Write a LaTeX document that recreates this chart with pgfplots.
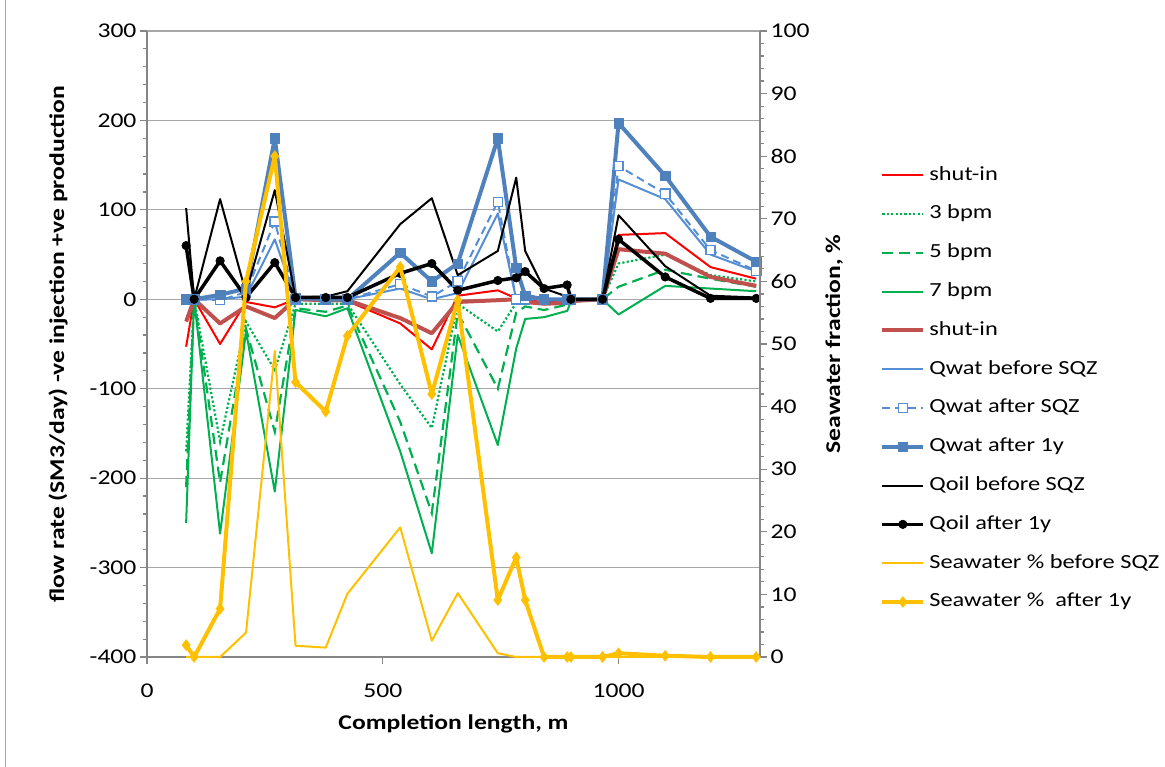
\documentclass[border=0pt]{standalone}
\usepackage{pgfplots}
\usepackage{pgfplotstable}
\pgfplotsset{compat=1.18}
\usepackage{fontspec}
\setmainfont{Carlito}[FakeStretch=1.22]

\definecolor{cRed}{HTML}{FF0000}
\definecolor{cGreen}{HTML}{00B050}
\definecolor{cBrown}{HTML}{C0504D}
\definecolor{cBlue}{HTML}{4F81BD}
\definecolor{cBlueL}{HTML}{558ED5}
\definecolor{cYel}{HTML}{FFC000}
\definecolor{cGrid}{HTML}{A6A6A6}
\definecolor{cAxis}{HTML}{868686}

\pgfplotstableread{
x shutin b3 b5 b7 shutinB qwb qwa qw1 qob qo1 swb sw1
83 -53 -170 -210 -250 -25 0 0 0 102 60 0 1.9
100 0 0 0 0 0 0 0 0 0 0 0 0
155 -50 -159 -205 -262 -27 0 -1 5 112 43 0 7.7
210 -3 -25 -33 -36 -8 3 8 12 7 2 3.9 60
271 -9 -79 -148 -215 -21 67 87 180 122 41 48.9 80
315 0 -5 -10 -12 0 0 0 2 2 2 1.8 43.9
379 -2 -5 -14 -19 -1 0 0 0 3 2 1.5 39.2
425 -2 -5 -7 -10 -1 0 0 0 9 2 10.1 51.3
537 -27 -95 -137 -170 -21 12 17 52 84 29 20.7 62.3
604 -56 -144 -239 -284 -38 0 3 20 113 40 2.6 42
659 4 -5 -15 -40 -3 7 20 40 27 10 10.2 57
744 10 -36 -100 -163 -1 96 109 180 54 21 0.6 9.1
783 1 -4 -15 -55 0 0 0 35 136 24 0 15.9
802 -1 -3 -8 -22 -3 0 0 4 54 31 0 9.1
842 -3 -5 -12 -20 -5 0 0 0 12 12 0 0
891 -3 -4 -6 -13 -4 0 0 0 3 16 0 0
899 -2 -2 -2 -3 -2 0 0 0 0 0 0 0
966 0 0 0 0 0 0 0 0 0 0 0 0
1000 72 40 14 -17 56 134 149 197 94 67 0 0.6
1099 74 50 33 15 51 112 118 138 37 25 0 0.2
1195 36 27 23 12 25 50 55 70 4 1 0 0
1292 23 20 14 9 15 31 32 42 2 1 0 0
}\data

\pgfplotsset{
  sShut/.style={cRed, line width=2pt, no marks, line join=round},
  sB3/.style={cGreen, line width=2.2pt, dash pattern=on 2.2pt off 2.2pt, no marks},
  sB5/.style={cGreen, line width=2.2pt, dash pattern=on 11pt off 6pt, no marks},
  sB7/.style={cGreen, line width=2pt, no marks, line join=round},
  sBrown/.style={cBrown, line width=4pt, no marks, line join=round},
  sQwb/.style={cBlueL, line width=2pt, no marks, line join=round},
  sQwa/.style={cBlueL, line width=2pt, dash pattern=on 8pt off 5pt, mark=square*, mark size=4.6pt, mark options={solid, fill=white, draw=cBlueL, line width=1.4pt}},
  sQw1/.style={cBlue, line width=4pt, line join=round, mark=square*, mark size=4.7pt, mark options={solid, fill=cBlue, draw=cBlue, line width=0.5pt}},
  sQob/.style={black, line width=2pt, no marks, line join=round},
  sQo1/.style={black, line width=3.5pt, line join=round, mark=*, mark size=4.3pt, mark options={solid, fill=black, line width=0.5pt}},
  sSwb/.style={cYel, line width=2pt, no marks, line join=round},
  sSw1/.style={cYel, line width=4pt, line join=round, mark=diamond*, mark size=5.5pt, mark options={solid, fill=cYel, draw=cYel, line width=0.5pt}},
  common/.style={
    at={(147pt,110pt)}, anchor=south west,
    scale only axis, width=613pt, height=626pt,
    xmin=0, xmax=1300, clip=false,
    /pgf/number format/assume math mode=true,
    /pgf/number format/1000 sep={},
    ticklabel style={font=\fontsize{21}{25}\selectfont, text=black},
    label style={font=\bfseries\fontsize{21}{25}\selectfont},
    axis line style={cAxis, line width=1.2pt},
    tick style={cAxis, line width=1.2pt},
    major tick length=7pt, minor tick length=4pt,
    tick align=outside,
  },
}

\begin{document}
\begin{tikzpicture}[x=1pt,y=1pt]
\useasboundingbox (0,0) rectangle (1165,767);
\draw[cAxis!70, line width=1pt] (5,0) -- (5,767);

\begin{axis}[common,
  ymin=-400, ymax=300,
  xtick={0,500,1000}, ytick={-400,-300,...,300},
  minor y tick num=4,
  axis x line*=bottom, axis y line*=left,
  ymajorgrids, major grid style={cGrid, line width=1.2pt},
  xticklabel style={yshift=-16pt},
  xlabel={Completion length, m},
  ylabel={flow rate (SM3/day) -ve injection +ve production},
  xlabel style={at={(axis description cs:0.5,-0.107)}, anchor=center},
  ylabel style={at={(axis description cs:-0.145,0.5)}, anchor=center},
]
\addplot[sShut] table[x=x,y=shutin]{\data};
\addplot[sB3] table[x=x,y=b3]{\data};
\addplot[sB5] table[x=x,y=b5]{\data};
\addplot[sB7] table[x=x,y=b7]{\data};
\addplot[sBrown] table[x=x,y=shutinB]{\data};
\addplot[sQwb] table[x=x,y=qwb]{\data};
\addplot[sQwa] table[x=x,y=qwa]{\data};
\addplot[sQw1] table[x=x,y=qw1]{\data};
\addplot[sQob] table[x=x,y=qob]{\data};
\addplot[sQo1] table[x=x,y=qo1]{\data};
\end{axis}

\begin{axis}[common,
  ymin=0, ymax=100, ytick={0,10,...,100}, minor y tick num=4,
  axis x line=none, axis y line*=right,
  ylabel={Seawater fraction, \%},
  ylabel style={at={(axis description cs:1.121,0.5)}, anchor=center},
  legend cell align=left,
  legend image code/.code={\draw[mark repeat=2,mark phase=2,#1] plot coordinates {(0pt,0pt) (20.5pt,0pt) (41pt,0pt)};},
  legend style={at={(axis description cs:1.196,0.786)}, anchor=north west,
    draw=none, fill=none, font=\fontsize{20}{24}\selectfont,
    row sep=18.8pt, column sep=4pt, inner sep=0pt,
    nodes={inner sep=0pt, text height=15pt, text depth=5pt}},
]
\addlegendimage{sShut}\addlegendentry{shut-in}
\addlegendimage{sB3}\addlegendentry{3 bpm}
\addlegendimage{sB5}\addlegendentry{5 bpm}
\addlegendimage{sB7}\addlegendentry{7 bpm}
\addlegendimage{sBrown}\addlegendentry{shut-in}
\addlegendimage{sQwb}\addlegendentry{Qwat before SQZ}
\addlegendimage{sQwa}\addlegendentry{Qwat after SQZ}
\addlegendimage{sQw1}\addlegendentry{Qwat after 1y}
\addlegendimage{sQob}\addlegendentry{Qoil before SQZ}
\addlegendimage{sQo1}\addlegendentry{Qoil after 1y}
\addplot[sSwb] table[x=x,y=swb]{\data};
\addlegendentry{Seawater \% before SQZ}
\addplot[sSw1] table[x=x,y=sw1]{\data};
\addlegendentry{Seawater \%~ after 1y}
\end{axis}
\end{tikzpicture}
\end{document}
